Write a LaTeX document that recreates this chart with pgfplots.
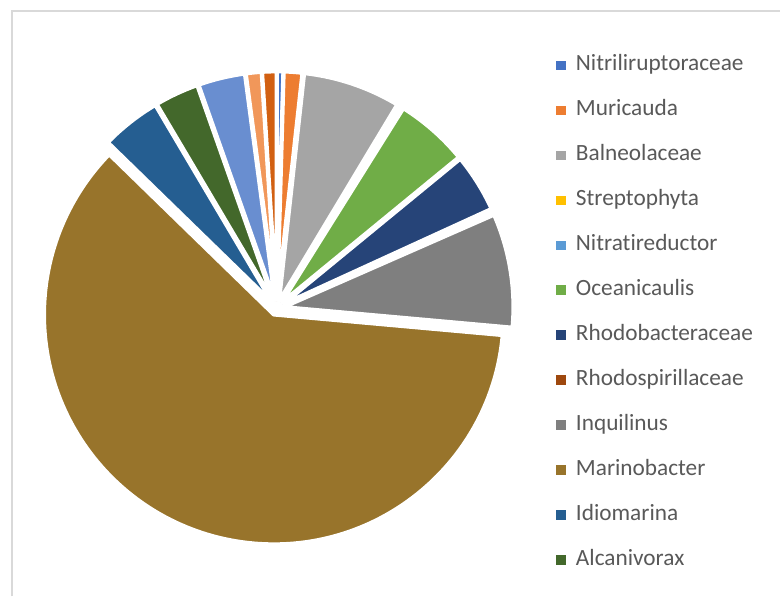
\documentclass[border=0pt]{standalone}
\usepackage{pgfplots}
\pgfplotsset{compat=1.18}
\usepackage{pgfplotstable}
\usepackage{fontspec}
\setmainfont{Carlito}[Ligatures={NoCommon}]
\definecolor{c1}{HTML}{4472C4}
\definecolor{c2}{HTML}{ED7D31}
\definecolor{c3}{HTML}{A5A5A5}
\definecolor{c4}{HTML}{FFC000}
\definecolor{c5}{HTML}{5B9BD5}
\definecolor{c6}{HTML}{70AD47}
\definecolor{c7}{HTML}{264478}
\definecolor{c8}{HTML}{9E480E}
\definecolor{c9}{HTML}{7F7F7F}
\definecolor{c10}{HTML}{98742B}
\definecolor{c11}{HTML}{255E91}
\definecolor{c12}{HTML}{43682B}
\definecolor{c13}{HTML}{698ED0}
\definecolor{c14}{HTML}{F1975A}
\definecolor{c20}{HTML}{D26012}
\definecolor{legtext}{HTML}{595959}
\definecolor{bordc}{HTML}{D9D9D9}
% percentage share of each slice, clockwise from 12 o'clock
\pgfplotstableread{
val col
0.45 c1
1.30 c2
6.85 c3
0.15 c4
0.15 c5
5.15 c6
4.10 c7
0.25 c8
8.00 c9
60.80 c10
4.20 c11
3.10 c12
3.30 c13
1.10 c14
1.00 c20
}\pietable
\begin{document}
\begin{tikzpicture}
\begin{axis}[
  x=1bp, y=1bp, xmin=0, xmax=781, ymin=0, ymax=597,
  hide axis, clip=false,
  legend image code/.code={\fill[#1, draw=none] (0bp,-4.75bp) rectangle (9.5bp,4.75bp);},
  legend cell align=left,
  legend style={at={(axis cs:557,542)}, anchor=north west, draw=none, fill=none,
    inner sep=0pt, outer sep=0pt, row sep=24bp, column sep=10bp,
    font=\fontsize{23.3bp}{27bp}\selectfont,
    nodes={inner sep=0pt, outer sep=0pt, text height=16bp, text depth=5bp, text=legtext}},
]
\path[fill=white] (axis cs:0,0) rectangle (axis cs:781,597);
\draw[color=bordc, line width=1.5bp] (axis cs:12,0) -- (axis cs:12,586) -- (axis cs:781,586);
\pgfplotstablegetrowsof{\pietable}
\pgfmathtruncatemacro\lastrow{\pgfplotsretval-1}
\def\total{0}
\pgfplotsforeachungrouped \i in {0,...,\lastrow}{%
  \pgfplotstablegetelem{\i}{val}\of\pietable
  \pgfmathsetmacro\total{\total+\pgfplotsretval}%
}
\def\cum{0}
\pgfplotsforeachungrouped \i in {0,...,\lastrow}{%
  \pgfplotstablegetelem{\i}{val}\of\pietable
  \let\v\pgfplotsretval
  \pgfplotstablegetelem{\i}{col}\of\pietable
  \let\c\pgfplotsretval
  \pgfmathsetmacro\aone{90-\cum/\total*360}%
  \pgfmathsetmacro\cumnew{\cum+\v}%
  \pgfmathsetmacro\atwo{90-\cumnew/\total*360}%
  \pgfmathsetmacro\amid{(\aone+\atwo)/2}%
  \pgfmathsetmacro\cx{277+7*cos(\amid)}%
  \pgfmathsetmacro\cy{288.5+7*sin(\amid)}%
  \edef\doslice{\noexpand\filldraw[fill=\c, draw=white, line width=4bp, line join=bevel]
    (axis cs:\cx,\cy) -- ++(\aone:230bp) arc[start angle=\aone, end angle=\atwo, radius=230bp] -- cycle;}%
  \doslice
  \global\let\cum\cumnew
}
\addlegendimage{fill=c1}\addlegendentry{Nitriliruptoraceae}
\addlegendimage{fill=c2}\addlegendentry{Muricauda}
\addlegendimage{fill=c3}\addlegendentry{Balneolaceae}
\addlegendimage{fill=c4}\addlegendentry{Streptophyta}
\addlegendimage{fill=c5}\addlegendentry{Nitratireductor}
\addlegendimage{fill=c6}\addlegendentry{Oceanicaulis}
\addlegendimage{fill=c7}\addlegendentry{Rhodobacteraceae}
\addlegendimage{fill=c8}\addlegendentry{Rhodospirillaceae}
\addlegendimage{fill=c9}\addlegendentry{Inquilinus}
\addlegendimage{fill=c10}\addlegendentry{Marinobacter}
\addlegendimage{fill=c11}\addlegendentry{Idiomarina}
\addlegendimage{fill=c12}\addlegendentry{Alcanivorax}
\end{axis}
\end{tikzpicture}
\end{document}
